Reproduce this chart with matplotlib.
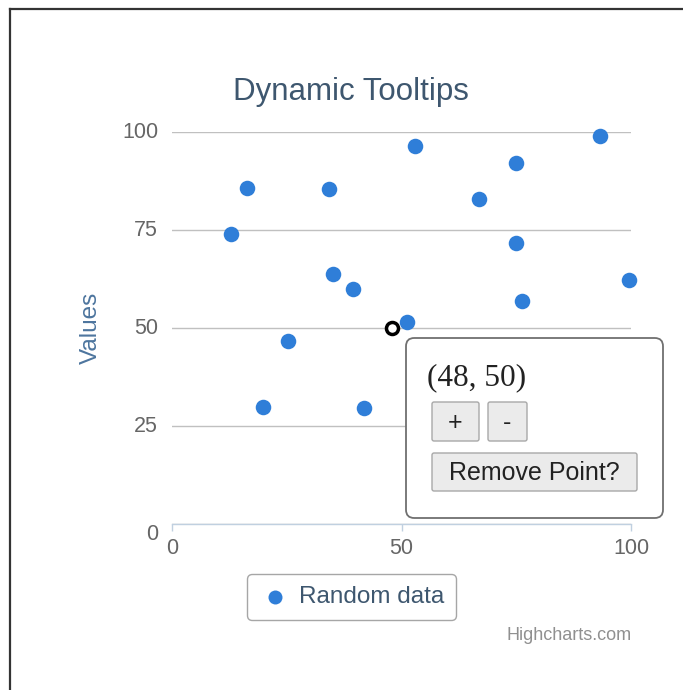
import matplotlib
matplotlib.use("Agg")
import matplotlib.pyplot as plt
from matplotlib.patches import FancyBboxPatch
from matplotlib.lines import Line2D

# ---- data ----
x_vals = [12.9, 16.3, 19.8, 25.3, 34.2, 35.1, 39.4, 41.8, 51.2, 52.9,
          66.9, 74.9, 74.9, 76.3, 93.2, 99.6]
y_vals = [74.0, 85.7, 29.8, 46.7, 85.5, 63.8, 59.9, 29.6, 51.5, 96.4,
          82.9, 92.1, 71.7, 56.9, 99.0, 62.2]
hover_x, hover_y = 48, 50
x_ticks = [0, 50, 100]
y_ticks = [0, 25, 50, 75, 100]
series_name = "Random data"

W, H = 683, 690
plt.rcParams['font.family'] = ['Liberation Sans', 'DejaVu Sans']

fig = plt.figure(figsize=(W / 100, H / 100), dpi=100)
fig.patch.set_facecolor('white')


def fx(px):
    return px / W


def fy(py):
    return 1 - py / H


# plot area
ax = fig.add_axes([fx(172), fy(524), (631 - 172) / W, (524 - 132) / H])
ax.set_xlim(0, 100)
ax.set_ylim(0, 100)
for s in ['top', 'right', 'left']:
    ax.spines[s].set_visible(False)
ax.spines['bottom'].set_color('#C0D0E0')
ax.spines['bottom'].set_linewidth(1)
ax.set_xticks(x_ticks)
ax.set_yticks(y_ticks)
ax.tick_params(axis='x', direction='out', length=5, width=1, color='#C0D0E0',
               labelcolor='#666666', labelsize=15.5, pad=5)
ax.tick_params(axis='y', length=0, labelcolor='#666666', labelsize=15.5, pad=10)
for lbl in ax.get_yticklabels():
    lbl.set_verticalalignment('top' if lbl.get_text() == '0' else 'center')
ax.grid(axis='y', color='#C0C0C0', linewidth=1)
ax.set_axisbelow(True)
ax.set_ylabel("Values", color='#4d759e', fontsize=17.5)
ax.yaxis.set_label_coords(-0.153, 0.5)

ax.scatter(x_vals, y_vals, s=125, color='#2f7ed8', zorder=3, clip_on=False,
           label=series_name, linewidths=0)
ax.scatter([hover_x], [hover_y], s=75, facecolor='white', edgecolor='black',
           linewidths=2.5, zorder=4, clip_on=False)

# title
fig.text(fx(351), fy(92), "Dynamic Tooltips", ha='center', va='center',
         fontsize=22.5, color='#3E576F')

# legend
leg = ax.legend(loc='center', bbox_to_anchor=(fx(351.5), fy(597)),
                bbox_transform=fig.transFigure, fontsize=17.5, frameon=True,
                fancybox=True, edgecolor='#909090', handletextpad=0.35,
                borderpad=0.5, markerscale=0.9, handlelength=1.3)
leg.get_frame().set_linewidth(1)
for t in leg.get_texts():
    t.set_color('#3E576F')

fig.text(fx(632), fy(636), "Highcharts.com", ha='right', va='center',
         fontsize=13, color='#909090')

# tooltip box
tip = FancyBboxPatch((fx(406), fy(518)), (663 - 406) / W, (518 - 338) / H,
                     boxstyle="round,pad=0,rounding_size=0.012",
                     transform=fig.transFigure, facecolor='white',
                     edgecolor='#707070', linewidth=1.3, zorder=5)
fig.add_artist(tip)
fig.text(fx(427), fy(378), f"({hover_x}, {hover_y})", ha='left', va='center',
         fontsize=22.5, family=['Liberation Serif', 'DejaVu Serif'],
         color='#222222', zorder=6)


def button(x0, y0, x1, y1, label):
    b = FancyBboxPatch((fx(x0), fy(y1)), (x1 - x0) / W, (y1 - y0) / H,
                       boxstyle="round,pad=0,rounding_size=0.003",
                       transform=fig.transFigure, facecolor='#ebebeb',
                       edgecolor='#a8a8a8', linewidth=1, zorder=6)
    fig.add_artist(b)
    fig.text(fx((x0 + x1) / 2), fy((y0 + y1) / 2 + 1), label, ha='center',
             va='center', fontsize=18, color='#222222', zorder=7)


button(432, 402, 479, 441, "+")
button(488, 402, 527, 441, "-")
button(432, 453, 637, 491, "Remove Point?")

# outer frame (page border)
fig.add_artist(Line2D([fx(10), fx(10)], [fy(9), 0], transform=fig.transFigure,
                      color='#333333', linewidth=1.6))
fig.add_artist(Line2D([fx(10), 1], [fy(9), fy(9)], transform=fig.transFigure,
                      color='#333333', linewidth=1.6))

fig.savefig("out.png", dpi=100)
